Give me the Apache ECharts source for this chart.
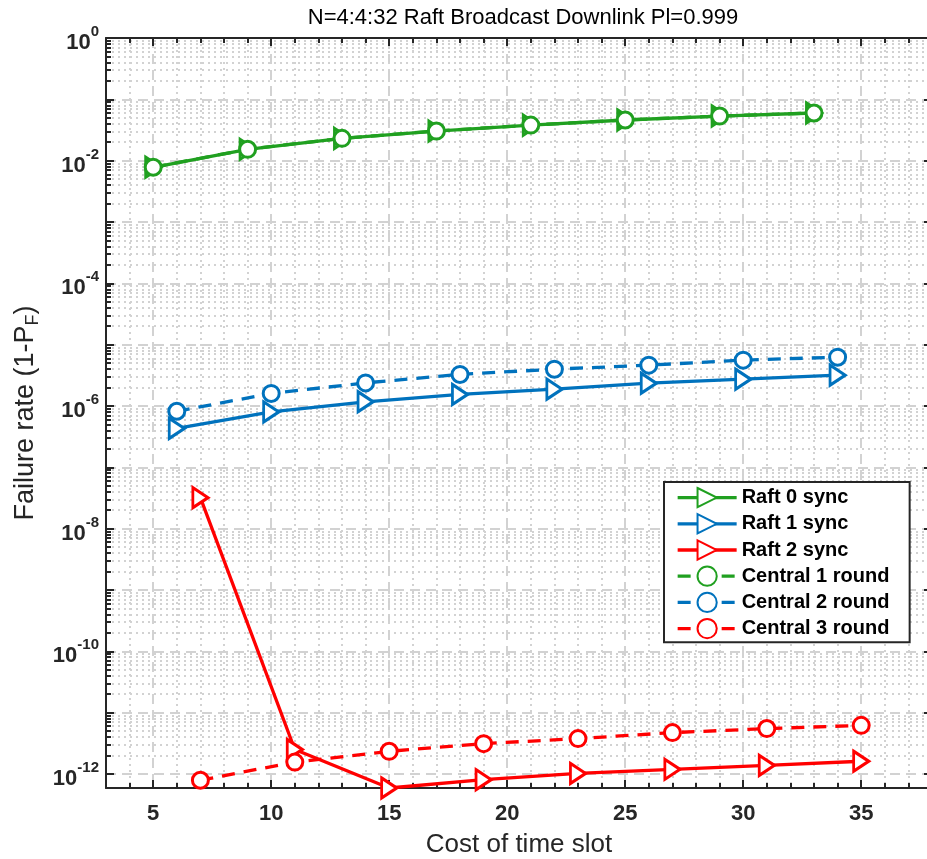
<!DOCTYPE html>
<html>
<head>
<meta charset="utf-8">
<script src="https://cdn.jsdelivr.net/npm/echarts@6/dist/echarts.min.js"></script>
<style>
html,body{margin:0;padding:0;background:#fff;}
#chart{width:927px;height:859px;}
</style>
</head>
<body>
<div id="chart"></div>
<script>
// ---- data ----
const raft0X = [5, 9, 13, 17, 21, 25, 29, 33];
const raft0Y = [7.8e-3, 1.53e-2, 2.31e-2, 3.04e-2, 3.8e-2, 4.6e-2, 5.34e-2, 5.98e-2];
const central1X = [5, 9, 13, 17, 21, 25, 29, 33];
const central1Y = [7.8e-3, 1.53e-2, 2.31e-2, 3.04e-2, 3.8e-2, 4.6e-2, 5.34e-2, 5.98e-2];
const raft1X = [6, 10, 14, 18, 22, 26, 30, 34];
const raft1Y = [4.3e-7, 8.0e-7, 1.17e-6, 1.54e-6, 1.88e-6, 2.35e-6, 2.73e-6, 3.18e-6];
const central2X = [6, 10, 14, 18, 22, 26, 30, 34];
const central2Y = [8.2e-7, 1.6e-6, 2.38e-6, 3.27e-6, 3.98e-6, 4.63e-6, 5.59e-6, 6.25e-6];
const raft2X = [7, 11, 15, 19, 23, 27, 31, 35];
const raft2Y = [3.2e-8, 2.5e-12, 5.9e-13, 8.07e-13, 1.02e-12, 1.19e-12, 1.38e-12, 1.61e-12];
const central3X = [7, 11, 15, 19, 23, 27, 31, 35];
const central3Y = [7.9e-13, 1.56e-12, 2.34e-12, 3.12e-12, 3.77e-12, 4.72e-12, 5.49e-12, 6.2e-12];

const xMin = 3, xMax = 38;
const yMin = 5.9e-13, yMax = 1;
const xMajorTicks = [5, 10, 15, 20, 25, 30, 35];
const xMinorTicks = [3, 4, 6, 7, 8, 9, 11, 12, 13, 14, 16, 17, 18, 19, 21, 22, 23, 24, 26, 27, 28, 29, 31, 32, 33, 34, 36, 37];
const yDecadeExps = [-12, -11, -10, -9, -8, -7, -6, -5, -4, -3, -2, -1, 0];
const yLabelExps = [-12, -10, -8, -6, -4, -2, 0];
const minorMantissas = [2, 3, 4, 5, 6, 7, 8, 9];

const title = 'N=4:4:32 Raft Broadcast Downlink Pl=0.999';
const xName = 'Cost of time slot';
const names = ['Raft 0 sync', 'Raft 1 sync', 'Raft 2 sync', 'Central 1 round', 'Central 2 round', 'Central 3 round'];

// ---- derived ----
const yMajorTicks = yDecadeExps.map(e => Math.pow(10, e));
const yLabelTicks = yLabelExps.map(e => Math.pow(10, e));
const yMinorTicks = [];
yDecadeExps.forEach(e => minorMantissas.forEach(m => {
  const v = m * Math.pow(10, e);
  if (v >= yMin && v <= yMax) yMinorTicks.push(v);
}));

const GREEN = '#20A020', BLUE = '#0072BD', RED = '#FF0000';
const AXIS = '#262626';
const FONT = 'Liberation Sans, Arial, Helvetica, sans-serif';
const TRI = 'path://M0,0L16,9L0,18Z';

function zip(xs, ys) { return xs.map((x, i) => [x, ys[i]]); }

function mkSeries(name, xs, ys, color, marker, dashed, z) {
  return {
    name: name, type: 'line', data: zip(xs, ys),
    xAxisIndex: 0, yAxisIndex: 0,
    clip: false, z: z,
    symbol: marker === 'tri' ? TRI : 'circle',
    symbolSize: marker === 'tri' ? [17, 20] : 16,
    symbolKeepAspect: true,
    showAllSymbol: true,
    lineStyle: { color: color, width: 3.3, type: dashed ? [13, 9] : 'solid' },
    itemStyle: { color: '#ffffff', borderColor: color, borderWidth: 3 },
    emphasis: { disabled: true },
    animation: false
  };
}

function supLabel(v) {
  const e = Math.round(Math.log10(v));
  return '{b|10}{s|' + e + '}';
}

const hideAll = {
  axisLine: { show: false }, axisLabel: { show: false },
  axisTick: { show: false }, splitLine: { show: false }
};

const xCommon = { type: 'value', min: xMin, max: xMax, gridIndex: 0 };
const yCommon = { type: 'log', logBase: 10, min: yMin, max: yMax, gridIndex: 0 };

const xAxes = [
  Object.assign({}, xCommon, {
    position: 'bottom',
    name: xName, nameLocation: 'middle', nameGap: 44,
    nameTextStyle: { fontFamily: FONT, fontSize: 26, color: '#262626' },
    axisLine: { show: true, lineStyle: { color: AXIS, width: 2 } },
    axisTick: { show: true, inside: true, length: 8, customValues: xMajorTicks, lineStyle: { color: AXIS, width: 2 } },
    axisLabel: { show: true, customValues: xMajorTicks, margin: 15, fontFamily: FONT, fontWeight: 'bold', fontSize: 22, color: '#262626' },
    splitLine: { show: true, lineStyle: { color: '#d2d2d2', width: 2, type: [10, 6] } }
  }),
  Object.assign({}, xCommon, hideAll, {
    position: 'bottom',
    axisTick: { show: true, inside: true, length: 5, customValues: xMinorTicks, lineStyle: { color: AXIS, width: 2 } },
    splitLine: { show: true, lineStyle: { color: '#d2d2d2', width: 2, type: [2, 4] } }
  }),
  Object.assign({}, xCommon, hideAll, {
    position: 'top',
    axisLine: { show: true, lineStyle: { color: AXIS, width: 2 } },
    axisTick: { show: true, inside: true, length: 8, customValues: xMajorTicks, lineStyle: { color: AXIS, width: 2 } }
  }),
  Object.assign({}, xCommon, hideAll, {
    position: 'top',
    axisTick: { show: true, inside: true, length: 5, customValues: xMinorTicks, lineStyle: { color: AXIS, width: 2 } }
  })
];

const yAxes = [
  Object.assign({}, yCommon, {
    position: 'left',
    name: '{a|Failure rate (1-P}{sub|F}{a|)}', nameLocation: 'middle', nameGap: 64, nameRotate: 90,
    nameTextStyle: {
      rich: {
        a: { fontFamily: FONT, fontSize: 27, color: '#262626' },
        sub: { fontFamily: FONT, fontSize: 18, color: '#262626', padding: [14, 0, 0, 0] }
      }
    },
    axisLine: { show: true, lineStyle: { color: AXIS, width: 2 } },
    axisTick: { show: true, inside: true, length: 8, customValues: yMajorTicks, lineStyle: { color: AXIS, width: 2 } },
    axisLabel: {
      show: true, customValues: yLabelTicks, margin: 7, formatter: supLabel,
      rich: {
        b: { fontFamily: FONT, fontWeight: 'bold', fontSize: 22, color: '#262626', padding: [10, 0, 0, 0] },
        s: { fontFamily: FONT, fontWeight: 'bold', fontSize: 15, color: '#262626', padding: [0, 0, 12, 0] }
      }
    },
    splitLine: { show: true, lineStyle: { color: '#d2d2d2', width: 2, type: [10, 6] } }
  }),
  Object.assign({}, yCommon, hideAll, {
    position: 'left',
    axisTick: { show: true, inside: true, length: 5, customValues: yMinorTicks, lineStyle: { color: AXIS, width: 2 } },
    splitLine: { show: true, lineStyle: { color: '#d2d2d2', width: 2, type: [2, 4] } }
  }),
  Object.assign({}, yCommon, hideAll, {
    position: 'right',
    axisLine: { show: true, lineStyle: { color: AXIS, width: 2 } },
    axisTick: { show: true, inside: true, length: 8, customValues: yMajorTicks, lineStyle: { color: AXIS, width: 2 } }
  }),
  Object.assign({}, yCommon, hideAll, {
    position: 'right',
    axisTick: { show: true, inside: true, length: 5, customValues: yMinorTicks, lineStyle: { color: AXIS, width: 2 } }
  })
];

const chart = echarts.init(document.getElementById('chart'), null, { renderer: 'canvas' });
chart.setOption({
  animation: false,
  backgroundColor: '#ffffff',
  title: {
    text: title, left: 518, top: 2, textAlign: 'center',
    textStyle: { fontFamily: FONT, fontSize: 22, fontWeight: 'normal', color: '#000' }
  },
  grid: { left: 106, top: 38, width: 826, height: 750, outerBoundsMode: 'none', containLabel: false },
  xAxis: xAxes,
  yAxis: yAxes,
  legend: {
    data: names,
    orient: 'vertical', left: 664, top: 482,
    itemWidth: 59, itemHeight: 24, itemGap: 5,
    padding: [5, 13, 3, 12],
    backgroundColor: '#ffffff',
    borderColor: AXIS, borderWidth: 2,
    selectedMode: false,
    lineStyle: { width: 3.3 },
    textStyle: { fontFamily: FONT, fontWeight: 'bold', fontSize: 20, lineHeight: 20, color: '#000', width: 155 }
  },
  series: [
    mkSeries(names[0], raft0X, raft0Y, GREEN, 'tri', false, 2),
    mkSeries(names[1], raft1X, raft1Y, BLUE, 'tri', false, 2),
    mkSeries(names[2], raft2X, raft2Y, RED, 'tri', false, 2),
    mkSeries(names[3], central1X, central1Y, GREEN, 'circle', true, 3),
    mkSeries(names[4], central2X, central2Y, BLUE, 'circle', true, 3),
    mkSeries(names[5], central3X, central3Y, RED, 'circle', true, 3)
  ]
});
</script>
</body>
</html>
